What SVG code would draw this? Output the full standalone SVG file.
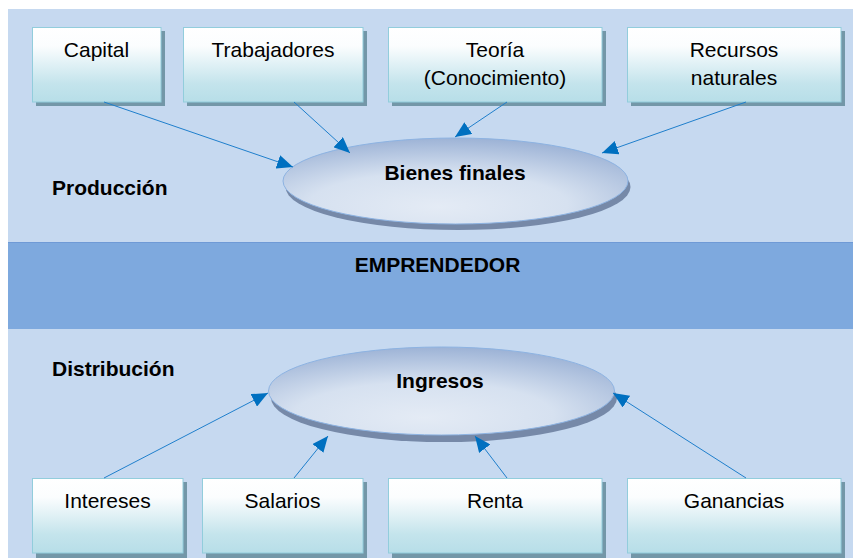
<svg xmlns="http://www.w3.org/2000/svg" width="853" height="558" viewBox="0 0 853 558">
<defs>
<linearGradient id="boxg" x1="0" y1="0" x2="0" y2="1">
<stop offset="0" stop-color="#FFFFFF"/>
<stop offset="0.25" stop-color="#FBFDFE"/>
<stop offset="0.75" stop-color="#C4E4EC"/>
<stop offset="1" stop-color="#B7DEE8"/>
</linearGradient>
<radialGradient id="ellg" cx="0.45" cy="0.75" r="0.75" fx="0.45" fy="0.8">
<stop offset="0" stop-color="#E4EBF5"/>
<stop offset="0.5" stop-color="#D6E1F0"/>
<stop offset="1" stop-color="#9DB3D6"/>
</radialGradient>
<marker id="ah" markerWidth="16" markerHeight="14" refX="16" refY="7" orient="auto" markerUnits="userSpaceOnUse">
<path d="M0,0 L16,7 L0,14 z" fill="#0070C0"/>
</marker>
<style>
.box{fill:url(#boxg);stroke:#92CDDC;stroke-width:1}
.sh{fill:#7397A8}
.ell{fill:url(#ellg);stroke:#8DB3E2;stroke-width:1}
.esh{fill:#7689A8}
.t{font-family:"Liberation Sans",Arial,sans-serif;font-size:21px;fill:#000;text-anchor:middle}
.b{font-family:"Liberation Sans",Arial,sans-serif;font-size:21px;font-weight:bold;fill:#000}
.c{stroke:#1F7FCC;stroke-width:1;fill:none;marker-end:url(#ah)}
</style>
</defs>
<rect x="0" y="0" width="853" height="558" fill="#FFFFFF"/>
<rect x="8" y="9" width="845" height="549" fill="#C6D9F0"/>
<rect x="8" y="242" width="845" height="87" fill="#7EA9DE"/>
<line x1="8" y1="242.5" x2="853" y2="242.5" stroke="#6F9AD6" stroke-width="1"/>
<g id="band">
<text class="b" x="437.5" y="272" text-anchor="middle">EMPRENDEDOR</text>
</g>
<g id="labels">
<text class="b" x="52" y="195">Producción</text>
<text class="b" x="52" y="376">Distribución</text>
</g>
<g id="capital">
<rect class="sh" x="36" y="31" width="129" height="75"/>
<rect class="box" x="32.5" y="27.5" width="128.5" height="74.5"/>
<text class="t" x="96.5" y="57">Capital</text>
</g>
<g id="trabajadores">
<rect class="sh" x="187" y="31" width="180" height="75"/>
<rect class="box" x="183.5" y="27.5" width="179.5" height="74.5"/>
<text class="t" x="273" y="57">Trabajadores</text>
</g>
<g id="teoria">
<rect class="sh" x="392" y="31" width="214" height="75"/>
<rect class="box" x="388.5" y="27.5" width="213.5" height="74.5"/>
<text class="t" x="495" y="57">Teoría</text>
<text class="t" x="495" y="85">(Conocimiento)</text>
</g>
<g id="recursos">
<rect class="sh" x="631" y="31" width="214" height="75"/>
<rect class="box" x="627.5" y="27.5" width="213.5" height="74.5"/>
<text class="t" x="734" y="57">Recursos</text>
<text class="t" x="734" y="85">naturales</text>
</g>
<g id="bienes">
<ellipse class="esh" cx="458" cy="187" rx="172.5" ry="43"/>
<ellipse class="ell" cx="455.5" cy="181" rx="172.5" ry="43"/>
<text class="b" x="455" y="180" text-anchor="middle">Bienes finales</text>
</g>
<g id="ingresos">
<ellipse class="esh" cx="444" cy="398" rx="173" ry="44"/>
<ellipse class="ell" cx="441.5" cy="391" rx="173" ry="44"/>
<text class="b" x="440" y="388" text-anchor="middle">Ingresos</text>
</g>
<g id="intereses">
<rect class="sh" x="36" y="482" width="151" height="76"/>
<rect class="box" x="32.5" y="478.5" width="150.5" height="74.5"/>
<text class="t" x="107.5" y="508">Intereses</text>
</g>
<g id="salarios">
<rect class="sh" x="206" y="482" width="161" height="76"/>
<rect class="box" x="202.5" y="478.5" width="160.5" height="74.5"/>
<text class="t" x="282.5" y="508">Salarios</text>
</g>
<g id="renta">
<rect class="sh" x="392" y="482" width="214" height="76"/>
<rect class="box" x="388.5" y="478.5" width="213.5" height="74.5"/>
<text class="t" x="495" y="508">Renta</text>
</g>
<g id="ganancias">
<rect class="sh" x="631" y="482" width="214" height="76"/>
<rect class="box" x="627.5" y="478.5" width="213.5" height="74.5"/>
<text class="t" x="734" y="508">Ganancias</text>
</g>
<g id="connectors">
<line class="c" x1="104" y1="102" x2="293" y2="167"/>
<line class="c" x1="294" y1="102" x2="350" y2="153"/>
<line class="c" x1="507" y1="102" x2="455" y2="137"/>
<line class="c" x1="746" y1="102" x2="602" y2="153"/>
<line class="c" x1="104" y1="478" x2="268" y2="393"/>
<line class="c" x1="294" y1="478" x2="328" y2="436"/>
<line class="c" x1="507" y1="478" x2="475" y2="436"/>
<line class="c" x1="746" y1="478" x2="613" y2="393"/>
</g>
</svg>
